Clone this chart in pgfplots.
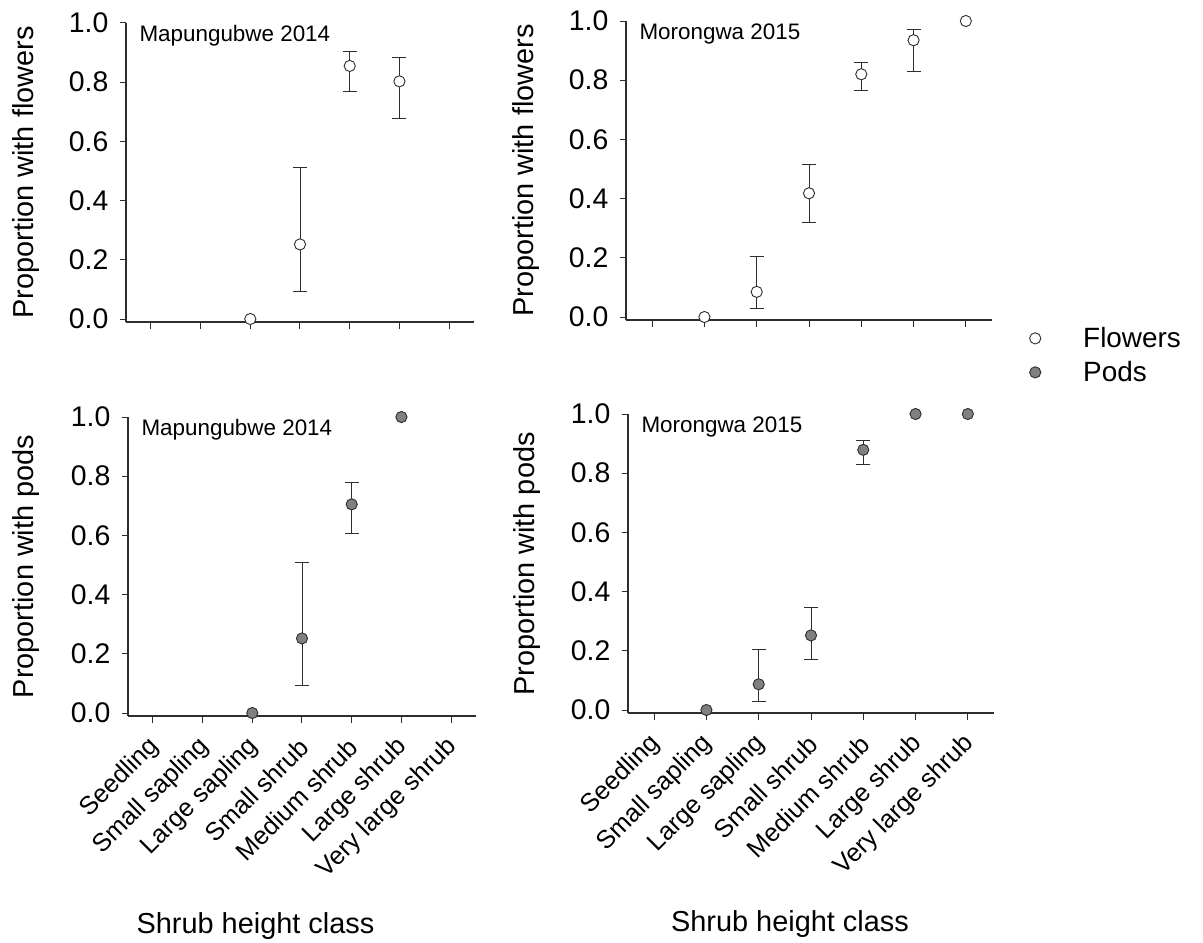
\documentclass[border=0pt]{standalone}
\usepackage{fontspec}
\setmainfont{Liberation Sans}
\usepackage{pgfplots}
\pgfplotsset{compat=1.18}
\definecolor{podGray}{RGB}{128,128,128}
\definecolor{lineInk}{RGB}{45,45,45}

\pgfplotsset{
  shrubaxis/.style={
    scale only axis,
    anchor=north west,
    clip=false,
    xmin=-0.5, xmax=6.5,
    ymin=-0.0101, ymax=1,
    axis x line*=bottom, axis y line*=left,
    axis line style={lineInk, line width=1.1bp, -},
    tick style={lineInk, line width=1bp},
    major tick length=6.5bp,
    tick align=outside,
    xtick={0,1,2,3,4,5,6},
    ytick={0,0.2,0.4,0.6,0.8,1},
    /pgf/number format/fixed,
    /pgf/number format/fixed zerofill,
    /pgf/number format/precision=1,
    /pgf/number format/assume math mode=true,
    yticklabel style={font=\fontsize{28.5}{34}\selectfont, inner sep=0pt, xshift=-11bp},
    xticklabels={},
    height=299bp,
  },
  bottomaxis/.style={
    xticklabels={Seedling, Small sapling, Large sapling, Small shrub, Medium shrub, Large shrub, Very large shrub},
    xticklabel style={font=\fontsize{25.5}{30}\selectfont, inner sep=0pt, yshift=-20bp, xshift=2bp, rotate=45, anchor=east},
  },
  flowers/.style={only marks, mark=*, mark size=5.6bp,
    mark options={fill=white, draw=lineInk, line width=0.9bp}},
  pods/.style={only marks, mark=*, mark size=5.6bp,
    mark options={fill=podGray, draw=lineInk, line width=0.9bp}},
  witherr/.style={
    error bars/y dir=both, error bars/y explicit,
    error bars/error bar style={lineInk, line width=0.9bp},
    error bars/error mark options={lineInk, line width=0.9bp, mark size=7bp, rotate=90}},
}
\tikzset{
  paneltitle/.style={anchor=base west, xshift=10bp, yshift=-18.5bp, font=\fontsize{22.5}{27}\selectfont},
}

\begin{document}
\begin{tikzpicture}
\useasboundingbox (0,0) rectangle (1203bp,-943bp);

% top left: Mapungubwe 2014, flowers
\begin{axis}[shrubaxis, at={(126bp,-23bp)}, width=348bp]
  \addplot[flowers, witherr] coordinates {
    (3,0.252) += (0,0.259) -= (0,0.158)
    (4,0.855) += (0,0.050) -= (0,0.087)
    (5,0.803) += (0,0.079) -= (0,0.127)
  };
  \addplot[flowers] coordinates {(2,0)};
  \node[paneltitle] at (rel axis cs:0,1) {Mapungubwe 2014};
\end{axis}

% top right: Morongwa 2015, flowers
\begin{axis}[shrubaxis, at={(626bp,-21bp)}, width=366bp,
    legend style={at={(axis description cs:1.093,-0.135)}, anchor=west,
      draw=none, fill=none, font=\fontsize{28}{34}\selectfont,
      nodes={inner xsep=0pt, inner ysep=0pt, text height=21bp, text depth=13bp}},
    legend cell align=left,
    legend image code/.code={\path[draw=none, fill=none] (0bp,0bp) rectangle (54bp,10bp);
      \draw[#1] plot coordinates {(6bp,5bp)};}]
  \addlegendimage{flowers}
  \addlegendentry{Flowers}
  \addlegendimage{pods}
  \addlegendentry{Pods}
  \addplot[flowers, forget plot, witherr] coordinates {
    (2,0.085) += (0,0.118) -= (0,0.056)
    (3,0.418) += (0,0.099) -= (0,0.099)
    (4,0.820) += (0,0.039) -= (0,0.056)
    (5,0.935) += (0,0.037) -= (0,0.105)
  };
  \addplot[flowers, forget plot] coordinates {(1,0) (6,1)};
  \node[paneltitle] at (rel axis cs:0,1) {Morongwa 2015};
\end{axis}

% bottom left: Mapungubwe 2014, pods
\begin{axis}[shrubaxis, bottomaxis, at={(128bp,-417bp)}, width=348bp]
  \addplot[pods, witherr] coordinates {
    (3,0.252) += (0,0.258) -= (0,0.159)
    (4,0.705) += (0,0.074) -= (0,0.099)
  };
  \addplot[pods] coordinates {(2,0) (5,1)};
  \node[paneltitle] at (rel axis cs:0,1) {Mapungubwe 2014};
\end{axis}

% bottom right: Morongwa 2015, pods
\begin{axis}[shrubaxis, bottomaxis, at={(628bp,-414bp)}, width=366bp]
  \addplot[pods, witherr] coordinates {
    (2,0.087) += (0,0.116) -= (0,0.058)
    (3,0.252) += (0,0.093) -= (0,0.081)
    (4,0.879) += (0,0.030) -= (0,0.051)
  };
  \addplot[pods] coordinates {(1,0) (5,1) (6,1)};
  \node[paneltitle] at (rel axis cs:0,1) {Morongwa 2015};
\end{axis}

% axis titles
\node[rotate=90, anchor=base, font=\fontsize{29}{35}\selectfont] at (33bp,-172.5bp) {Proportion with flowers};
\node[rotate=90, anchor=base, font=\fontsize{29}{35}\selectfont] at (533bp,-170.5bp) {Proportion with flowers};
\node[rotate=90, anchor=base, font=\fontsize{29}{35}\selectfont] at (33bp,-566.5bp) {Proportion with pods};
\node[rotate=90, anchor=base, font=\fontsize{29}{35}\selectfont] at (534bp,-564bp) {Proportion with pods};
\node[anchor=base, font=\fontsize{29}{35}\selectfont] at (255.5bp,-933bp) {Shrub height class};
\node[anchor=base, font=\fontsize{29}{35}\selectfont] at (790bp,-931bp) {Shrub height class};
\end{tikzpicture}
\end{document}
